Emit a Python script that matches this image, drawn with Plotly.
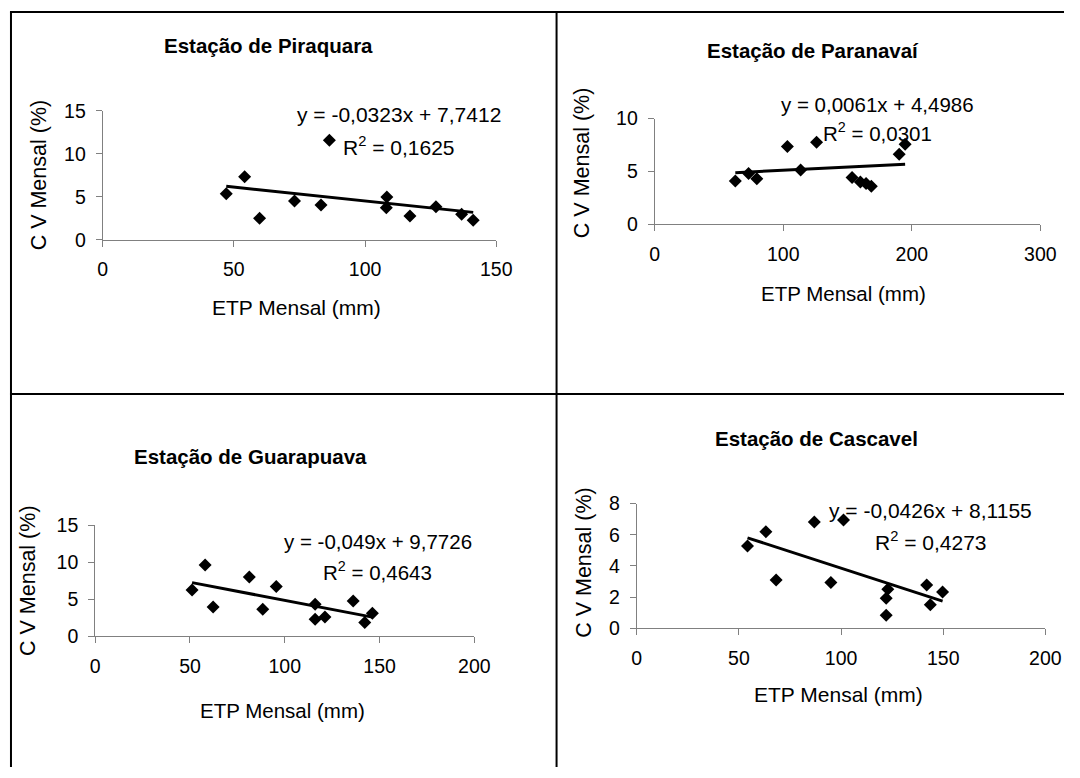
import plotly.graph_objects as go

W, H = 1080, 778

# ---------------- data ----------------
titles = ["Estação de Piraquara", "Estação de Paranavaí",
          "Estação de Guarapuava", "Estação de Cascavel"]

piraquara_etp = [47.1, 54.1, 59.8, 73.1, 83.2, 86.4, 108.3, 108.1, 117.1, 127.0, 136.8, 141.2]
piraquara_cv = [5.36, 7.34, 2.49, 4.51, 4.04, 11.58, 4.98, 3.73, 2.76, 3.85, 2.96, 2.26]

paranavai_etp = [62.7, 73.0, 79.4, 103.2, 113.5, 125.9, 153.5, 160.0, 164.4, 168.5, 190.2, 194.8]
paranavai_cv = [4.1, 4.8, 4.3, 7.35, 5.14, 7.76, 4.42, 4.0, 3.85, 3.6, 6.63, 7.57]

guarapuava_etp = [51.1, 58.0, 62.2, 81.3, 88.4, 95.5, 116.0, 116.0, 121.2, 136.1, 142.2, 146.2]
guarapuava_cv = [6.28, 9.65, 3.99, 8.03, 3.68, 6.74, 4.35, 2.33, 2.64, 4.8, 1.89, 3.14]

cascavel_etp = [54.2, 63.2, 68.2, 86.9, 95.0, 101.2, 122.1, 122.9, 122.1, 141.9, 143.7, 149.7]
cascavel_cv = [5.28, 6.2, 3.1, 6.82, 2.93, 6.95, 1.93, 2.5, 0.83, 2.78, 1.5, 2.33]

slopes = [-0.0323, 0.0061, -0.049, -0.0426]
intercepts = [7.7412, 4.4986, 9.7726, 8.1155]
equations = ["y = -0,0323x + 7,7412", "y = 0,0061x + 4,4986",
             "y = -0,049x + 9,7726", "y = -0,0426x + 8,1155"]
r2_labels = ["R<sup>2</sup> = 0,1625", "R<sup>2</sup> = 0,0301",
             "R<sup>2</sup> = 0,4643", "R<sup>2</sup> = 0,4273"]

x_max = [150, 300, 200, 200]
x_dtick = [50, 100, 50, 50]
y_max = [15, 10, 15, 8]
y_dtick = [5, 5, 5, 2]

x_title = "ETP Mensal (mm)"
y_title = "C V Mensal (%)"

series_x = [piraquara_etp, paranavai_etp, guarapuava_etp, cascavel_etp]
series_y = [piraquara_cv, paranavai_cv, guarapuava_cv, cascavel_cv]

# ---------------- layout (target pixel geometry in the picture) ----------------
areas = [(101, 496, 239, 110), (655, 1042, 223.5, 117.7),
         (93.5, 474, 636.3, 525), (637, 1047, 628, 503.3)]
title_pos = [(267, 45), (814, 49.3), (249.5, 455.7), (817, 438.3)]
eq_pos = [(398.5, 113.3), (879, 103.3), (377, 541.3), (932, 510)]
r2_pos = [(398.5, 145), (879, 131), (377, 570.7), (932.5, 540.7)]
xt_pos = [(295.5, 306.7), (844.5, 293.3), (281, 710.7), (839.5, 694)]
yt_pos = [(36.7, 174), (581.7, 161.7), (26, 579.8), (583.3, 562.3)]
text_size = [21, 20.5, 20.5, 21]

# picture = OX + SX * figure (measured placement of the page in the photo)
OX, SX, OY, SY = 3.0, 0.984, 10.0, 0.973


def px(x):
    return min(max((x - OX) / SX, 0), W) / W


def py(y):
    return 1 - min(max((y - OY) / SY, 1), H) / H


FONT = "Liberation Sans, Arial, sans-serif"
fig = go.Figure()
annotations = []
layout = dict(width=W, height=H, margin=dict(l=0, r=0, t=0, b=0),
              paper_bgcolor="white", plot_bgcolor="white", showlegend=False)

for i in range(4):
    sfx = "" if i == 0 else str(i + 1)
    xa, ya = "x" + sfx, "y" + sfx
    xs, ys = series_x[i], series_y[i]
    fig.add_trace(go.Scatter(x=xs, y=ys, mode="markers", xaxis=xa, yaxis=ya,
                             marker=dict(symbol="diamond", size=10, color="black"),
                             cliponaxis=False))
    lx = [min(xs), max(xs)]
    ly = [slopes[i] * v + intercepts[i] for v in lx]
    fig.add_trace(go.Scatter(x=lx, y=ly, mode="lines", xaxis=xa, yaxis=ya,
                             line=dict(color="black", width=3), cliponaxis=False))
    x0, x1, yb, yt = areas[i]
    layout["xaxis" + sfx] = dict(
        domain=[px(x0), px(x1)], range=[0, x_max[i]], dtick=x_dtick[i], tick0=0,
        anchor=ya, showgrid=False, zeroline=False, showline=True,
        linecolor="#808080", linewidth=1, ticks="outside", ticklen=6,
        tickcolor="#808080", tickwidth=1, ticklabelstandoff=6,
        tickfont=dict(family=FONT, size=19.5, color="black"), fixedrange=True)
    layout["yaxis" + sfx] = dict(
        domain=[py(yb), py(yt)], range=[0, y_max[i]], dtick=y_dtick[i], tick0=0,
        anchor=xa, showgrid=False, zeroline=False, showline=True,
        linecolor="#808080", linewidth=1, ticks="outside", ticklen=6,
        tickcolor="#808080", tickwidth=1, ticklabelstandoff=6,
        tickfont=dict(family=FONT, size=19.5, color="black"), fixedrange=True)

    def ann(text, pos, size, bold=False, angle=0):
        annotations.append(dict(
            text=("<b>%s</b>" % text) if bold else text,
            x=px(pos[0]), y=py(pos[1]), xref="paper", yref="paper",
            xanchor="center", yanchor="middle", showarrow=False, textangle=angle,
            font=dict(family=FONT, size=size, color="black")))

    ts = text_size[i]
    ann(titles[i], title_pos[i], 20.5, bold=True)
    ann(equations[i], eq_pos[i], ts)
    ann(r2_labels[i], r2_pos[i], ts)
    ann(x_title, xt_pos[i], ts)
    ann(y_title, yt_pos[i], 21.5, angle=-90)

layout["annotations"] = annotations

# panel borders
border = dict(color="black", width=2)
shapes = [
    dict(type="line", xref="paper", yref="paper", x0=px(8), x1=1, y0=py(9), y1=py(9), line=border),
    dict(type="line", xref="paper", yref="paper", x0=px(9), x1=px(9), y0=py(8), y1=0, line=border),
    dict(type="line", xref="paper", yref="paper", x0=px(556.5), x1=px(556.5), y0=py(8), y1=0, line=border),
    dict(type="line", xref="paper", yref="paper", x0=px(8), x1=1, y0=py(393.5), y1=py(393.5), line=border),
]
layout["shapes"] = shapes

fig.update_layout(**layout)
fig.write_html("out.html", config={"displayModeBar": False},
               post_script="document.body.style.margin='0px';document.body.style.overflow='hidden';")
